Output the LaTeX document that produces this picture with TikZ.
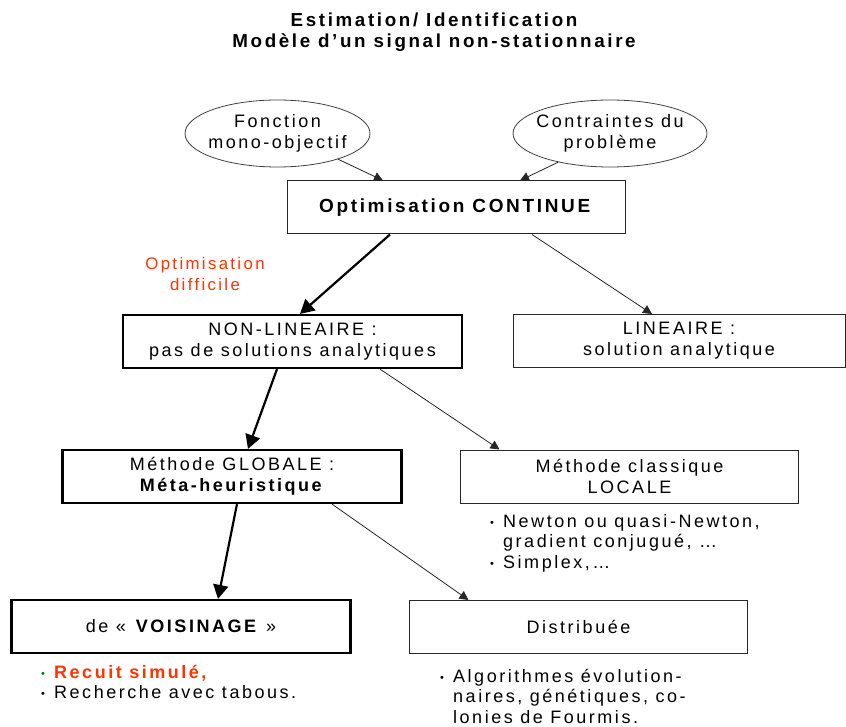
\documentclass[tikz,border=0pt]{standalone}
\usepackage{fontspec}
\setmainfont{Liberation Sans}[LetterSpace=14]
\usetikzlibrary{arrows.meta,shapes.geometric}
\definecolor{redtxt}{HTML}{FF3300}
\definecolor{greenb}{HTML}{008000}
\newcommand{\bul}[1][black]{\makebox[13pt][l]{\textcolor{#1}{\fontsize{11}{11}\selectfont\raisebox{1pt}{•}}}}
\newcommand{\ind}{\hspace*{13pt}}
\begin{document}
\begin{tikzpicture}[x=1pt,y=-1pt,
  every node/.style={font=\fontsize{18}{21}\selectfont, align=center, inner sep=0pt},
  thinbox/.style={draw=black!85, line width=1pt, minimum width=338pt, minimum height=53pt},
  thickbox/.style={draw=black, line width=2.2pt, minimum width=339pt, minimum height=53pt},
  oval/.style={ellipse, draw=black!75, line width=0.8pt, inner xsep=-14pt, minimum width=185pt, minimum height=67pt},
  thinarrow/.style={draw=black!85, line width=0.8pt, -{Triangle[length=9pt,width=9pt]}},
  thickarrow/.style={draw=black, line width=2.2pt, -{Triangle[length=14pt,width=15pt]}},
  listtxt/.style={align=left, anchor=north west, font=\fontsize{18}{20.5}\selectfont}
]
\useasboundingbox (0,0) rectangle (846,727);

% title
\node[font=\fontsize{18.8}{21}\selectfont\bfseries] (title) at (434,32)
  {Estimation/ Identification\\Modèle d’un signal non-stationnaire};

% ellipses
\node[oval] (f1) at (277.5,133.5) {Fonction\\mono-objectif};
\node[oval, minimum width=194pt] (f2) at (610,133.5) {Contraintes du\\problème};

% boxes
\node[thinbox] (cont) at (456,207.5) {\fontsize{19}{21}\selectfont\textbf{Optimisation CONTINUE}};
\node[thickbox] (nonlin) at (292.5,341.5) {NON-LINEAIRE :\\pas de solutions analytiques};
\node[thinbox, minimum width=332pt] (lin) at (679,341) {LINEAIRE :\\solution analytique};
\node[thickbox] (glob) at (232,476.5) {Méthode GLOBALE :\\\textbf{Méta-heuristique}};
\node[thinbox] (loc) at (629.5,476.5) {Méthode classique\\LOCALE};
\node[thickbox] (voi) at (181,626.5) {de « \textbf{VOISINAGE} »};
\node[thinbox] (dist) at (578.5,627) {Distribuée};

% red label
\node[text=redtxt, font=\fontsize{16.8}{21}\selectfont] (diff) at (205,274)
  {Optimisation\\difficile};

% lists
\node[listtxt] (lloc) at (490,514)
  {\bul Newton ou quasi-Newton,\\\ind gradient conjugué, …\\\bul Simplex,…};
\node[listtxt] (ldist) at (440,669)
  {\bul Algorithmes évolution-\\\ind naires, génétiques, co-\\\ind lonies de Fourmis.};
\node[listtxt] (lvoi) at (41,665)
  {\bul[greenb]\textcolor{redtxt}{\textbf{Recuit simulé,}}\\\bul Recherche avec tabous.};

% connectors
\draw[thinarrow] (f1.-23) -- ([xshift=-73pt]cont.north);
\draw[thinarrow] (f2.209) -- ([xshift=64pt]cont.north);
\draw[thickarrow] ([xshift=-66pt]cont.south) -- ([xshift=7.5pt]nonlin.north);
\draw[thinarrow] ([xshift=76pt]cont.south) -- ([xshift=-27pt]lin.north);
\draw[thickarrow] ([xshift=-15.5pt]nonlin.south) -- ([xshift=16pt]glob.north);
\draw[thinarrow] ([xshift=87.5pt]nonlin.south) -- ([xshift=-130pt]loc.north);
\draw[thickarrow] ([xshift=5pt]glob.south) -- ([xshift=37pt]voi.north);
\draw[thinarrow] ([xshift=100pt]glob.south) -- ([xshift=-110pt]dist.north);
\end{tikzpicture}
\end{document}
